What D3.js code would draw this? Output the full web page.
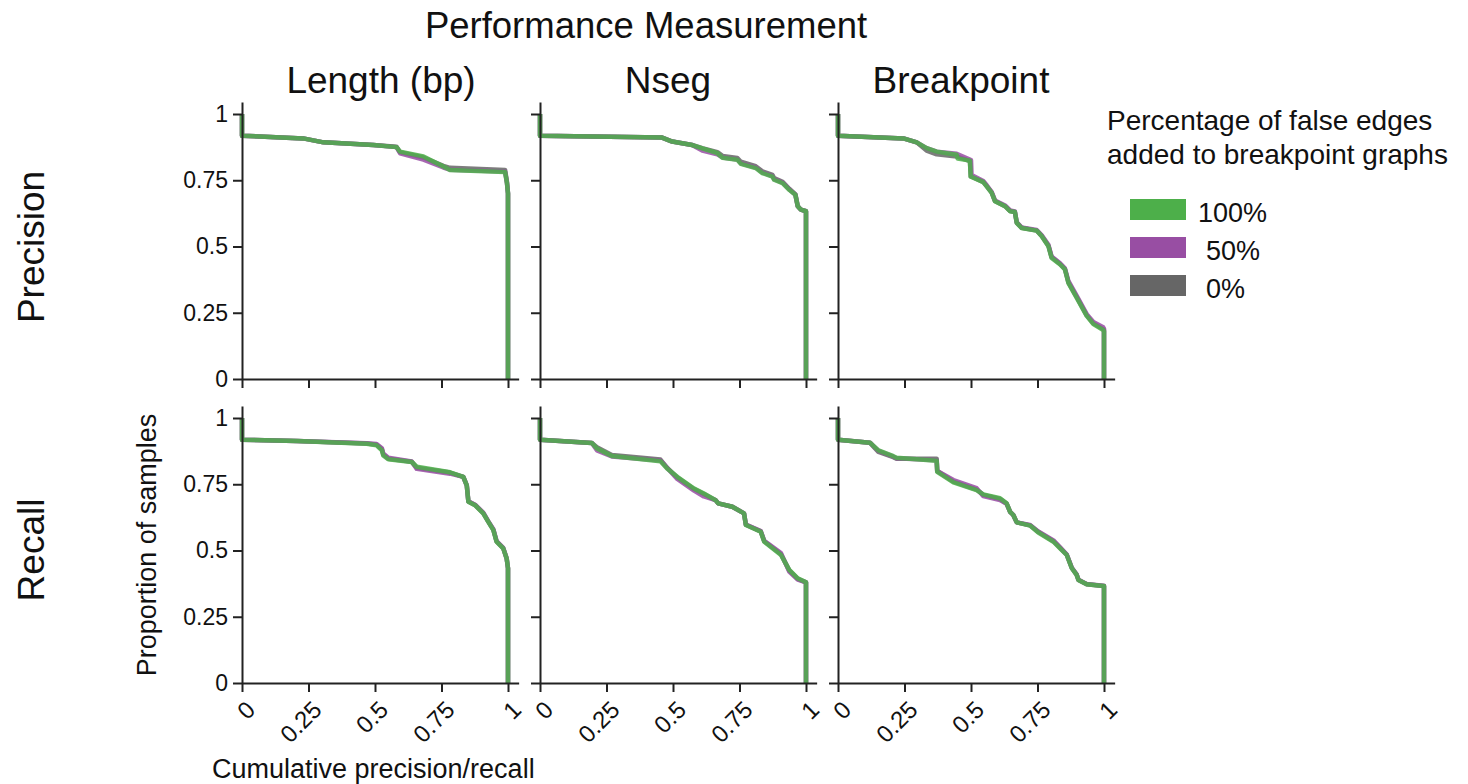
<!DOCTYPE html>
<html>
<head>
<meta charset="utf-8">
<script src="https://cdn.jsdelivr.net/npm/d3@7"></script>
<style>
  body { margin: 0; background: #fff; }
  svg text { font-family: "Liberation Sans", Arial, sans-serif; fill: #111; }
</style>
</head>
<body>
<div id="chart"></div>
<script>
// ---- data ----
const metrics = ['Length (bp)', 'Nseg', 'Breakpoint'];
const measures = ['Precision', 'Recall'];
const drawOrder = ['0%', '50%', '100%'];
const legendOrder = ['100%', '50%', '0%'];
const seriesColors = { '100%': '#4daf4a', '50%': '#984ea3', '0%': '#666666' };
const tickValues = [0, 0.25, 0.5, 0.75, 1];
const tickLabels = ['0', '0.25', '0.5', '0.75', '1'];

// each point: [cumulative precision/recall, proportion of samples]
const lengthPrecision100 = [[0,1],[0,.918],[.23,.908],[.306,.893],[.494,.883],[.581,.875],[.594,.858],[.682,.84],[.757,.802],[.782,.789],[.989,.781],[.996,.74],[1,.70],[1,0]];
const lengthPrecision50  = [[0,1],[0,.918],[.23,.908],[.306,.893],[.494,.883],[.581,.875],[.594,.852],[.682,.828],[.757,.798],[.782,.79],[.989,.783],[.996,.74],[1,.70],[1,0]];
const lengthPrecision0   = [[0,1],[0,.918],[.23,.908],[.306,.893],[.494,.883],[.581,.876],[.594,.856],[.682,.836],[.757,.804],[.782,.797],[.989,.789],[.996,.745],[1,.70],[1,0]];

const nsegPrecision100 = [[0,1],[0,.918],[.459,.911],[.497,.896],[.572,.883],[.61,.87],[.667,.852],[.686,.835],[.742,.827],[.755,.812],[.811,.796],[.836,.777],[.874,.764],[.88,.752],[.912,.739],[.937,.714],[.96,.695],[.969,.652],[.981,.639],[1,.633],[1,0]];
const nsegPrecision50  = [[0,1],[0,.918],[.459,.911],[.497,.896],[.572,.883],[.61,.862],[.667,.848],[.686,.836],[.742,.828],[.755,.814],[.811,.798],[.836,.779],[.874,.766],[.88,.754],[.912,.741],[.937,.716],[.96,.696],[.969,.652],[.981,.639],[1,.633],[1,0]];
const nsegPrecision0   = [[0,1],[0,.918],[.459,.911],[.497,.896],[.572,.883],[.61,.871],[.667,.856],[.686,.842],[.742,.834],[.755,.82],[.811,.803],[.836,.784],[.874,.77],[.88,.758],[.912,.744],[.937,.718],[.96,.697],[.969,.652],[.981,.639],[1,.633],[1,0]];

const breakPrecision100 = [[0,1],[0,.918],[.246,.908],[.296,.893],[.333,.871],[.371,.858],[.446,.846],[.45,.832],[.496,.824],[.499,.764],[.546,.743],[.559,.727],[.578,.702],[.59,.671],[.628,.652],[.647,.633],[.665,.63],[.672,.589],[.69,.57],[.747,.56],[.766,.539],[.791,.501],[.803,.457],[.835,.432],[.853,.414],[.866,.363],[.897,.307],[.935,.238],[.96,.207],[.997,.185],[1,.18],[1,0]];
const breakPrecision50  = [[0,1],[0,.918],[.246,.908],[.296,.893],[.333,.871],[.371,.858],[.446,.85],[.5,.826],[.502,.77],[.546,.747],[.559,.731],[.578,.705],[.59,.674],[.628,.655],[.647,.636],[.665,.632],[.672,.591],[.69,.572],[.747,.562],[.766,.542],[.791,.506],[.803,.462],[.835,.437],[.853,.418],[.866,.37],[.897,.315],[.935,.245],[.96,.215],[.997,.195],[1,.19],[1,0]];
const breakPrecision0   = [[0,1],[0,.918],[.246,.908],[.296,.893],[.333,.862],[.371,.848],[.446,.84],[.496,.822],[.499,.764],[.546,.744],[.559,.728],[.578,.703],[.59,.672],[.628,.652],[.647,.634],[.665,.63],[.672,.59],[.69,.571],[.747,.56],[.766,.54],[.791,.503],[.803,.46],[.835,.434],[.853,.415],[.866,.365],[.897,.31],[.935,.24],[.96,.21],[.997,.188],[1,.185],[1,0]];

const lengthRecall100 = [[0,1],[0,.918],[.206,.913],[.469,.903],[.506,.897],[.526,.878],[.531,.859],[.55,.844],[.638,.834],[.657,.816],[.782,.795],[.832,.778],[.845,.746],[.851,.684],[.876,.671],[.907,.64],[.926,.608],[.945,.577],[.957,.533],[.982,.508],[.995,.47],[1,.433],[1,0]];
const lengthRecall50  = [[0,1],[0,.918],[.206,.913],[.469,.905],[.506,.902],[.526,.886],[.531,.866],[.55,.85],[.638,.836],[.657,.808],[.782,.79],[.832,.778],[.845,.746],[.851,.686],[.876,.673],[.907,.643],[.926,.61],[.945,.58],[.957,.536],[.982,.51],[.995,.47],[1,.433],[1,0]];
const lengthRecall0   = [[0,1],[0,.918],[.206,.913],[.469,.904],[.506,.899],[.526,.882],[.531,.862],[.55,.846],[.638,.835],[.657,.812],[.782,.794],[.832,.778],[.845,.746],[.851,.685],[.876,.672],[.907,.641],[.926,.609],[.945,.578],[.957,.534],[.982,.509],[.995,.47],[1,.433],[1,0]];

const nsegRecall100 = [[0,1],[0,.918],[.195,.906],[.214,.885],[.27,.857],[.453,.837],[.478,.809],[.516,.778],[.579,.734],[.616,.715],[.66,.69],[.67,.678],[.723,.665],[.767,.64],[.774,.596],[.83,.571],[.843,.533],[.906,.483],[.937,.427],[.969,.395],[1,.38],[1,0]];
const nsegRecall50  = [[0,1],[0,.918],[.195,.906],[.214,.878],[.27,.855],[.453,.84],[.478,.812],[.516,.77],[.579,.726],[.616,.704],[.66,.69],[.67,.678],[.723,.665],[.767,.64],[.774,.598],[.83,.573],[.843,.537],[.906,.49],[.937,.42],[.969,.39],[1,.38],[1,0]];
const nsegRecall0   = [[0,1],[0,.918],[.195,.906],[.214,.89],[.27,.86],[.453,.843],[.478,.812],[.516,.776],[.579,.732],[.616,.713],[.66,.69],[.67,.678],[.723,.665],[.767,.64],[.774,.597],[.83,.572],[.843,.535],[.906,.486],[.937,.425],[.969,.393],[1,.38],[1,0]];

const breakRecall100 = [[0,1],[0,.918],[.12,.907],[.152,.878],[.208,.856],[.22,.85],[.371,.839],[.373,.797],[.434,.757],[.521,.728],[.546,.712],[.609,.697],[.634,.678],[.647,.646],[.659,.634],[.672,.606],[.722,.594],[.753,.568],[.81,.533],[.835,.508],[.86,.483],[.879,.433],[.897,.408],[.904,.389],[.935,.373],[.997,.366],[1,.366],[1,0]];
const breakRecall50  = [[0,1],[0,.918],[.12,.907],[.152,.876],[.208,.854],[.22,.848],[.371,.841],[.373,.8],[.434,.766],[.521,.735],[.546,.705],[.609,.69],[.634,.676],[.647,.646],[.659,.634],[.672,.606],[.722,.596],[.753,.572],[.81,.538],[.835,.512],[.86,.485],[.879,.435],[.897,.41],[.904,.39],[.935,.374],[.997,.367],[1,.367],[1,0]];
const breakRecall0   = [[0,1],[0,.918],[.12,.907],[.152,.872],[.208,.852],[.22,.846],[.371,.846],[.373,.8],[.434,.76],[.521,.73],[.546,.71],[.609,.695],[.634,.677],[.647,.646],[.659,.634],[.672,.606],[.722,.595],[.753,.57],[.81,.535],[.835,.51],[.86,.484],[.879,.434],[.897,.409],[.904,.389],[.935,.373],[.997,.366],[1,.366],[1,0]];

const panelData = [
  [
    { '100%': lengthPrecision100, '50%': lengthPrecision50, '0%': lengthPrecision0 },
    { '100%': nsegPrecision100, '50%': nsegPrecision50, '0%': nsegPrecision0 },
    { '100%': breakPrecision100, '50%': breakPrecision50, '0%': breakPrecision0 }
  ],
  [
    { '100%': lengthRecall100, '50%': lengthRecall50, '0%': lengthRecall0 },
    { '100%': nsegRecall100, '50%': nsegRecall50, '0%': nsegRecall0 },
    { '100%': breakRecall100, '50%': breakRecall50, '0%': breakRecall0 }
  ]
];

// ---- layout ----
const W = 1468, H = 784;
const panelLeft = [242, 540, 838];
const panelTop = [114, 418];   // y position of value 1
const unitW = 266, unitH = 265;
const xMax = 1.04, yMax = 1.045;

const svg = d3.select('#chart').append('svg')
  .attr('width', W)
  .attr('height', H);

const x = d3.scaleLinear().domain([0, xMax]).range([0, unitW * xMax]);
const y = d3.scaleLinear().domain([0, yMax]).range([unitH, unitH - unitH * yMax]);

const line = d3.line()
  .x(d => x(d[0]))
  .y(d => y(d[1]));

measures.forEach((measure, r) => {
  metrics.forEach((metric, c) => {
    const g = svg.append('g')
      .attr('transform', `translate(${panelLeft[c]},${panelTop[r]})`);

    // curves
    drawOrder.forEach(name => {
      g.append('path')
        .datum(panelData[r][c][name])
        .attr('fill', 'none')
        .attr('stroke', seriesColors[name])
        .attr('stroke-width', 4.5)
        .attr('stroke-linejoin', 'round')
        .attr('opacity', 0.85)
        .attr('d', line);
    });

    // axes
    const xAxis = d3.axisBottom(x).tickValues(tickValues).tickSizeInner(9).tickSizeOuter(0)
      .tickFormat(r === 1 ? (d, i) => tickLabels[i] : '');
    const yAxis = d3.axisLeft(y).tickValues(tickValues).tickSizeInner(9).tickSizeOuter(0)
      .tickFormat(c === 0 ? (d, i) => tickLabels[i] : '');

    const gx = g.append('g')
      .attr('transform', `translate(0,${unitH})`)
      .call(xAxis);
    const gy = g.append('g').call(yAxis);

    [gx, gy].forEach(a => {
      a.select('.domain').attr('stroke', '#222').attr('stroke-width', 2);
      a.selectAll('.tick line').attr('stroke', '#222').attr('stroke-width', 2);
      a.selectAll('.tick text').attr('fill', '#111').style('font-size', '23px')
        .style('font-family', '"Liberation Sans", Arial, sans-serif');
    });
    gy.selectAll('.tick text').attr('x', -14);

    if (r === 1) {
      gx.selectAll('.tick text')
        .style('font-size', '24px')
        .attr('text-anchor', 'end')
        .attr('transform', 'translate(2,16) rotate(-45)')
        .attr('x', 0)
        .attr('y', 0)
        .attr('dy', '0.72em');
    }
  });
});

// titles
svg.append('text')
  .attr('x', 646).attr('y', 38)
  .attr('text-anchor', 'middle')
  .style('font-size', '36.5px')
  .text('Performance Measurement');

const colTitleX = [381, 668, 961];
metrics.forEach((m, i) => {
  svg.append('text')
    .attr('x', colTitleX[i]).attr('y', 93)
    .attr('text-anchor', 'middle')
    .style('font-size', '37px')
    .text(m);
});

const rowCenterY = [247, 550];
measures.forEach((m, i) => {
  svg.append('text')
    .attr('transform', `translate(44,${rowCenterY[i]}) rotate(-90)`)
    .attr('text-anchor', 'middle')
    .style('font-size', '37px')
    .text(m);
});

svg.append('text')
  .attr('transform', 'translate(156,545) rotate(-90)')
  .attr('text-anchor', 'middle')
  .style('font-size', '27px')
  .text('Proportion of samples');

svg.append('text')
  .attr('x', 212).attr('y', 778)
  .style('font-size', '27px')
  .text('Cumulative precision/recall');

// legend
const legend = svg.append('g');
legend.append('text')
  .attr('x', 1107).attr('y', 130)
  .style('font-size', '28px')
  .text('Percentage of false edges');
legend.append('text')
  .attr('x', 1107).attr('y', 164)
  .style('font-size', '28px')
  .text('added to breakpoint graphs');

const legendRectY = [199, 237, 275];
const legendTextX = [1198, 1206, 1206];
legendOrder.forEach((name, i) => {
  legend.append('rect')
    .attr('x', 1130).attr('y', legendRectY[i])
    .attr('width', 56).attr('height', 21)
    .attr('fill', seriesColors[name]);
  legend.append('text')
    .attr('x', legendTextX[i]).attr('y', legendRectY[i] + 23)
    .style('font-size', '27px')
    .text(name);
});
</script>
</body>
</html>
